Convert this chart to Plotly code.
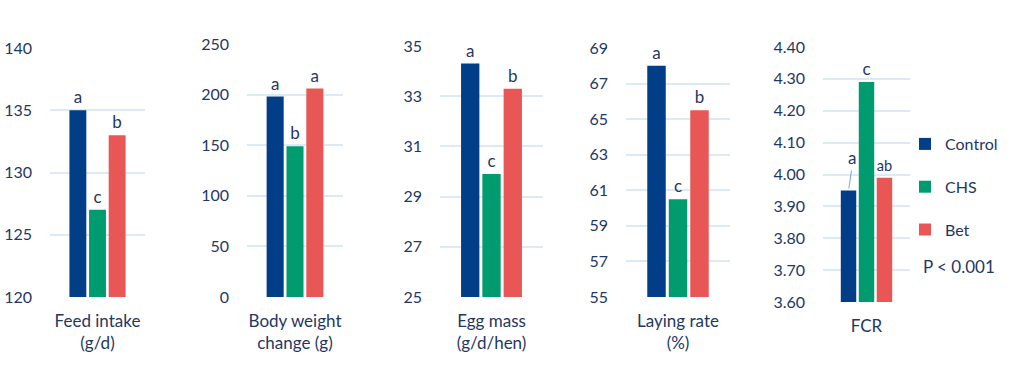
import plotly.graph_objects as go

# ---- data ----
metrics = ["Feed intake<br>(g/d)", "Body weight<br>change (g)", "Egg mass<br>(g/d/hen)",
           "Laying rate<br>(%)", "FCR"]
groups = ["Control", "CHS", "Bet"]
control = [135, 198, 34.3, 68.0, 3.95]
chs = [127, 149, 29.9, 60.5, 4.29]
bet = [133, 206, 33.3, 65.5, 3.99]
letters_control = ["a", "a", "a", "a", "a"]
letters_chs = ["c", "b", "c", "c", "c"]
letters_bet = ["b", "a", "b", "b", "ab"]
tick_values = [
    [120, 125, 130, 135, 140],
    [0, 50, 100, 150, 200, 250],
    [25, 27, 29, 31, 33, 35],
    [55, 57, 59, 61, 63, 65, 67, 69],
    [3.6, 3.7, 3.8, 3.9, 4.0, 4.1, 4.2, 4.3, 4.4],
]
tick_labels = [
    ["120", "125", "130", "135", "140"],
    ["0", "50", "100", "150", "200", "250"],
    ["25", "27", "29", "31", "33", "35"],
    ["55", "57", "59", "61", "63", "65", "67", "69"],
    ["3.60", "3.70", "3.80", "3.90", "4.00", "4.10", "4.20", "4.30", "4.40"],
]
p_text = "P < 0.001"

# ---- style ----
W, H = 1024, 369
colors = {"Control": "#023E87", "CHS": "#009B6E", "Bet": "#E85656"}
navy = "#1F3763"
grid = "#DCEAF7"
font_family = "Lato, Calibri, Liberation Sans, sans-serif"
# panel pixel extents (left, right, top, bottom)
panels = [(50, 145, 48, 297), (247, 343, 44, 297), (440, 543, 46, 297),
          (626, 730, 48, 297), (823, 910, 47, 302)]
BARGAP = 0.38
GROUPGAP = 0.14

fig = go.Figure()
series = [("Control", control, letters_control), ("CHS", chs, letters_chs), ("Bet", bet, letters_bet)]
layout_axes = {}
for i, m in enumerate(metrics):
    k = "" if i == 0 else str(i + 1)
    for name, vals, lets in series:
        txt = lets[i]
        if i == 4 and name == "Control":
            txt = ""
        fig.add_trace(go.Bar(
            x=[m], y=[vals[i]], name=name, legendgroup=name, showlegend=(i == 0),
            marker=dict(color=colors[name], line=dict(width=0)),
            text=[txt], textposition="outside", cliponaxis=False,
            textfont=dict(color=navy, size=17, family=font_family),
            xaxis="x" + k, yaxis="y" + k, offsetgroup=name,
        ))
    l, r, t, b = panels[i]
    tv = tick_values[i]
    layout_axes["xaxis" + k] = dict(
        domain=[l / W, r / W], anchor="y" + k, type="category", automargin=False,
        showgrid=False, zeroline=False, showline=False, ticks="",
        tickfont=dict(color=navy, size=17, family=font_family),
        ticklabelstandoff=12, fixedrange=True,
    )
    layout_axes["yaxis" + k] = dict(
        domain=[(H - b) / H, (H - t) / H], anchor="x" + k, automargin=False,
        range=[tv[0], tv[-1]], tickvals=tv, ticktext=tick_labels[i],
        showgrid=True, gridcolor=grid, gridwidth=1.5, zeroline=False, showline=False,
        ticks="", ticklabelstandoff=17,
        tickfont=dict(color=navy, size=16, family=font_family), fixedrange=True,
    )

# FCR control letter with leader line
fcr_k = "5"
fig.add_annotation(
    x=-(1 - BARGAP) / 3, y=control[4], xref="x" + fcr_k, yref="y" + fcr_k,
    text=letters_control[4], showarrow=True, arrowhead=0, arrowwidth=1,
    arrowcolor="#6FA8DC", ax=3, ay=-20, standoff=2,
    font=dict(color=navy, size=17, family=font_family), yanchor="bottom",
)

fig.add_annotation(
    x=921 / W, y=(H - 266) / H, xref="paper", yref="paper", xanchor="left", yanchor="middle",
    text=p_text, showarrow=False, font=dict(color=navy, size=17, family=font_family),
)

fig.update_layout(
    template="none",
    width=W, height=H, margin=dict(l=0, r=0, t=0, b=0, autoexpand=False),
    paper_bgcolor="white", plot_bgcolor="white",
    barmode="group", bargap=BARGAP, bargroupgap=GROUPGAP,
    font=dict(family=font_family, color=navy),
    legend=dict(x=905 / W, y=(H - 127) / H, xanchor="left", yanchor="top",
                font=dict(size=16, color=navy, family=font_family),
                tracegroupgap=19, traceorder="grouped", itemwidth=30, bgcolor="rgba(0,0,0,0)"),
    **layout_axes,
)

fig.write_html("out.html", config={"displayModeBar": False},
               post_script="document.body.style.margin='0';")
